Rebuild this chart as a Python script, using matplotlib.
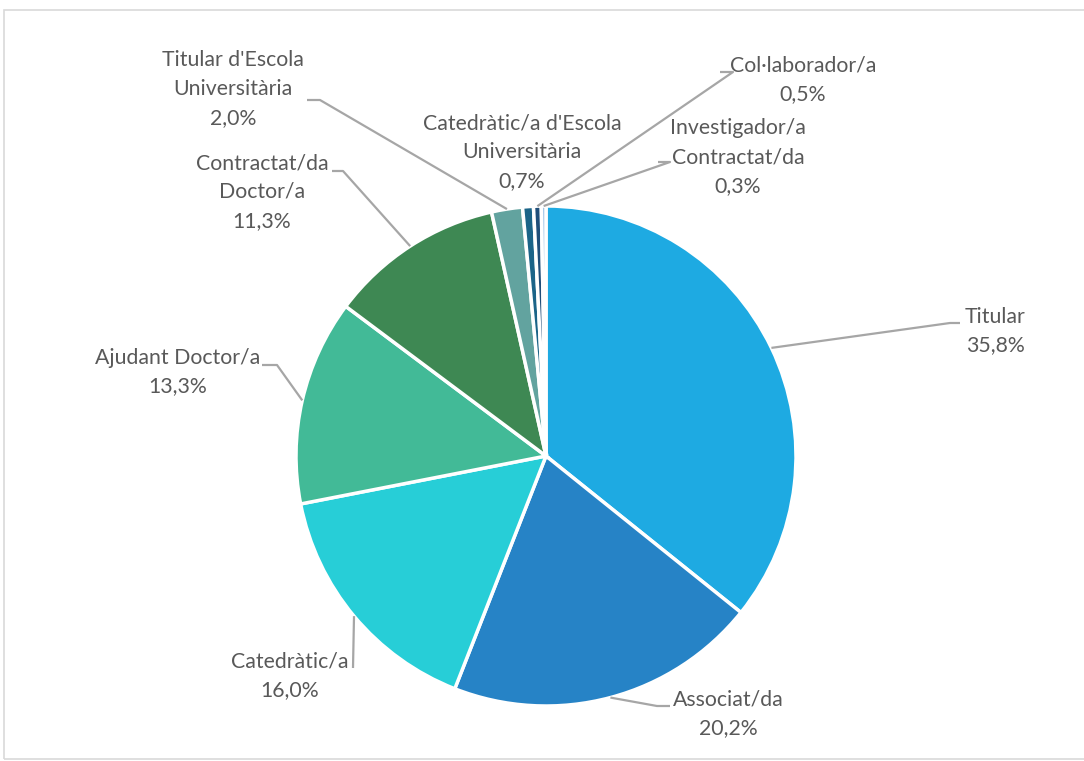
import matplotlib
matplotlib.use("Agg")
import matplotlib.pyplot as plt
import numpy as np

labels = ["Titular", "Associat/da", "Catedràtic/a", "Ajudant Doctor/a",
          "Contractat/da\nDoctor/a", "Titular d'Escola\nUniversitària",
          "Catedràtic/a d'Escola\nUniversitària", "Col·laborador/a",
          "Investigador/a\nContractat/da"]
values = [35.8, 20.2, 16.0, 13.3, 11.3, 2.0, 0.7, 0.5, 0.3]
colors = ["#1EAAE2", "#2683C6", "#27CED7", "#42BA97", "#3E8853",
          "#62A39F", "#1B6488", "#1F4E79", "#9DC3E6"]

W, H = 1084, 761
fig = plt.figure(figsize=(W / 100, H / 100), dpi=100)
ax = fig.add_axes([0, 0, 1, 1])
ax.set_xlim(0, W)
ax.set_ylim(0, H)
ax.set_aspect("equal")
ax.axis("off")

def py(y):
    return H - y

cx, cy, R = 546, py(456), 250
ax.pie(values, colors=colors, startangle=90, counterclock=False,
       center=(cx, cy), radius=R, frame=True,
       wedgeprops=dict(edgecolor="white", linewidth=2.5))
ax.set_xlim(0, W)
ax.set_ylim(0, H)
ax.axis("off")

# frame
ax.add_patch(plt.Rectangle((4, py(759)), W + 10, 749, fill=False,
                           edgecolor="#D9D9D9", linewidth=1.2, clip_on=False))

# label layout: text center (px), elbow (px), horizontal end (px) or None
layout = [
    ((995, 331), (950, 323), (960, 323)),
    ((728, 714), (657, 706), (670, 706)),
    ((290, 676), (353, 668), None),
    ((178, 372), (277, 365), (262, 365)),
    ((262, 192), (343, 171), (332, 171)),
    ((233, 89), (320, 100), (307, 100)),
    ((522, 152), None, None),
    ((803, 80), (733, 72), (720, 72)),
    ((738, 157), (670, 162), (658, 162)),
]

total = sum(values)
cum = np.cumsum([0] + values)
pct_txt = [f"{v:.1f}%".replace(".", ",") for v in values]
for i, (lab, (tpos, elbow, hend)) in enumerate(zip(labels, layout)):
    mid = (cum[i] + values[i] / 2) / total * 360.0
    theta = np.deg2rad(90 - mid)
    ex, ey = cx + R * np.cos(theta), cy + R * np.sin(theta)
    ax.text(tpos[0], py(tpos[1]), lab + "\n" + pct_txt[i], ha="center",
            va="center", fontsize=15.3, color="#595959", family="Lato",
            linespacing=1.55)
    if elbow is not None:
        xs = [ex, elbow[0]]
        ys = [ey, py(elbow[1])]
        if hend is not None:
            xs.append(hend[0])
            ys.append(py(hend[1]))
        ax.plot(xs, ys, color="#A6A6A6", linewidth=1.6,
                solid_capstyle="butt")

fig.savefig("out.png", dpi=100)
